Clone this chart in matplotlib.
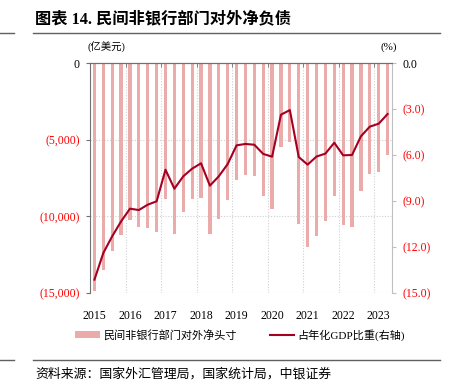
import matplotlib
matplotlib.use("Agg")
import matplotlib.pyplot as plt
from matplotlib.ticker import FuncFormatter, FixedLocator
from matplotlib.patches import Patch
from matplotlib.lines import Line2D
import numpy as np

# ---- data ----
years = ["2015", "2016", "2017", "2018", "2019", "2020", "2021", "2022", "2023"]
net_position = [-14900, -13500, -12240, -11220, -10240, -10700, -10740, -11000,
                -8900, -11170, -9720, -8890, -8800, -11130, -10200, -8930,
                -7610, -7330, -7390, -8700, -9520, -5500, -5150, -10500,
                -12000, -11260, -10280, -8700, -10540, -10700, -8330, -7240,
                -7110, -5980]
gdp_ratio = [-14.13, -12.39, -11.30, -10.33, -9.50, -9.59, -9.24, -9.02,
             -6.96, -8.20, -7.39, -6.89, -6.54, -8.00, -7.39, -6.59,
             -5.37, -5.28, -5.33, -5.93, -6.11, -3.37, -3.07, -6.13,
             -6.63, -6.10, -5.91, -5.20, -6.02, -6.00, -4.78, -4.15,
             -3.96, -3.33]
left_ticks = [0, -5000, -10000, -15000]
right_ticks = [0.0, -3.0, -6.0, -9.0, -12.0, -15.0]
bar_label = "民间非银行部门对外净头寸"
line_label = "占年化GDP比重(右轴)"
title = "图表 14. 民间非银行部门对外净负债"
source = "资料来源：国家外汇管理局，国家统计局，中银证券"

SERIF = ["Liberation Serif", "Noto Sans CJK SC"]
CJK = ["Noto Sans CJK SC", "DejaVu Sans"]
BAR_C = "#EBABAB"
LINE_C = "#A50021"
RED = "#FF0000"

W, H = 450, 388
fig = plt.figure(figsize=(W / 100, H / 100), dpi=100)
ax = fig.add_axes([90 / W, 1 - 293 / H, (392 - 90) / W, (293 - 63) / H])
ax2 = ax.twinx()

x = np.arange(len(net_position))
ax.bar(x, net_position, width=0.36, color=BAR_C, zorder=2)
ax2.plot(x, gdp_ratio, color=LINE_C, lw=1.5, zorder=3)

ax.set_xlim(-0.5, len(x) - 0.5)
ax.set_ylim(-15000, 0)
ax2.set_ylim(-15, 0)

# grids
for yv in left_ticks[1:]:
    ax.axhline(yv, color="#D0D0D0", lw=0.8, ls=(0, (1, 1.5)), zorder=1)
for b in np.arange(3.5, len(x) - 1, 4):
    ax.axvline(b, color="#D0D0D0", lw=0.8, ls=(0, (1, 1.5)), zorder=1)

# spines
ax.spines["bottom"].set_visible(False)
ax2.spines["bottom"].set_visible(False)
ax.spines["top"].set_color("#707070")
ax2.spines["top"].set_color("#707070")
ax.spines["left"].set_color("#707070")
ax2.spines["left"].set_visible(False)
ax2.spines["right"].set_color("#BFBFBF")
ax.spines["right"].set_visible(False)

# x ticks
ax.set_xticks(x[::4])
ax.set_xticklabels(years, fontfamily=SERIF, fontsize=8.5)
ax.tick_params(axis="x", length=0, pad=12)
ax.xaxis.set_minor_locator(FixedLocator(np.arange(3.5, len(x) - 1, 4)))
ax.tick_params(axis="x", which="minor", bottom=False, top=True,
               direction="in", length=3, color="#707070")

# left y
ax.set_yticks(left_ticks)
ax.yaxis.set_major_formatter(FuncFormatter(
    lambda v, p: "0" if v == 0 else "({:,.0f})".format(abs(v))))
ax.tick_params(axis="y", length=3, pad=4.5, color="#707070")
for lab in ax.get_yticklabels():
    lab.set_fontfamily(SERIF)
    lab.set_fontsize(8.5)
    lab.set_color("black" if lab.get_text() == "0" else RED)

# right y
ax2.set_yticks(right_ticks)
ax2.yaxis.set_major_formatter(FuncFormatter(
    lambda v, p: "0.0" if v == 0 else "({:.1f})".format(abs(v))))
ax2.tick_params(axis="y", length=3, pad=4.5, color="#BFBFBF")
for lab in ax2.get_yticklabels():
    lab.set_fontfamily(SERIF)
    lab.set_fontsize(8.5)
    lab.set_color("black" if lab.get_text() == "0.0" else RED)

# unit labels
fig.text(88 / W, 1 - 47 / H, "(亿美元)", fontfamily=SERIF, fontsize=7.5,
         ha="left", va="center")
fig.text(397 / W, 1 - 47 / H, "(%)", fontfamily=SERIF, fontsize=8,
         ha="right", va="center")

# title and rules
fig.text(35 / W, 1 - 20 / H, title, fontfamily=SERIF, fontsize=11.7,
         fontweight="bold", ha="left", va="center")
for yy in (33, 360):
    fig.add_artist(Line2D([33 / W, 440 / W], [1 - yy / H, 1 - yy / H],
                          color="#606060", lw=1.0))
    fig.add_artist(Line2D([0, 14 / W], [1 - yy / H, 1 - yy / H],
                          color="#606060", lw=1.0))
fig.text(35 / W, 1 - 374 / H, source, fontfamily=CJK, fontsize=9.3,
         style="italic", ha="left", va="center")

# legend
handles = [Patch(facecolor=BAR_C, edgecolor="none"),
           Line2D([], [], color=LINE_C, lw=1.5)]
fig.legend(handles, [bar_label, line_label], loc="center",
           bbox_to_anchor=(240 / W, 1 - 335 / H), ncol=2, frameon=False,
           prop={"family": SERIF, "size": 8}, handlelength=2.2,
           handleheight=0.6, handletextpad=0.3, columnspacing=3.0)

fig.savefig("out.png", dpi=100)
